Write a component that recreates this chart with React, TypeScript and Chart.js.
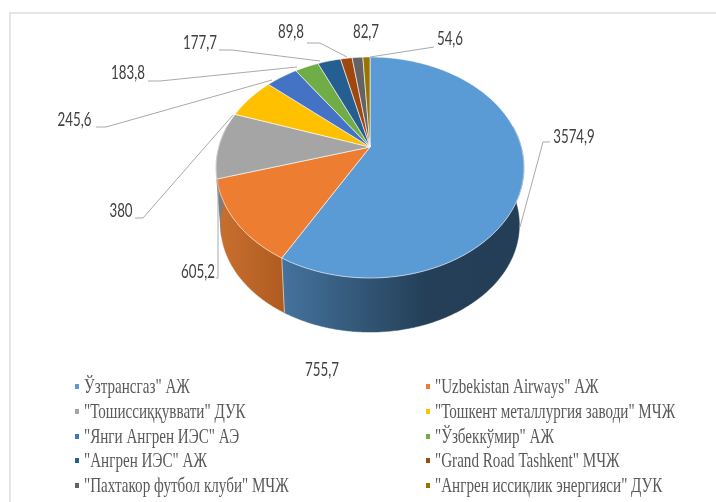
import React, { useEffect, useRef } from "react";
import { Chart, registerables } from "chart.js";

Chart.register(...registerables);

const categories = [
  'Ўзтрансгаз" АЖ',
  '"Uzbekistan Airways" АЖ',
  '"Тошиссиққуввати" ДУК',
  '"Тошкент металлургия заводи" МЧЖ',
  '"Янги Ангрен ИЭС" АЭ',
  '"Ўзбеккўмир" АЖ',
  '"Ангрен ИЭС" АЖ',
  '"Grand Road Tashkent" МЧЖ',
  '"Пахтакор футбол клуби" МЧЖ',
  '"Ангрен иссиқлик энергияси" ДУК',
];
const seriesValues = [3574.9, 755.7, 605.2, 380, 245.6, 183.8, 177.7, 89.8, 82.7, 54.6];
const valueLabels = ["3574,9", "755,7", "605,2", "380", "245,6", "183,8", "177,7", "89,8", "82,7", "54,6"];
const sliceColors = ["#5B9BD5", "#ED7D31", "#A5A5A5", "#FFC000", "#4472C4", "#70AD47", "#255E91", "#9E480E", "#636363", "#997300"];

// Layout of the labels: text centre, then the leader's bend points (empty = no leader).
const labelCentres = [[574, 137], [322, 370], [198, 272], [121, 211], [74.5, 120], [128, 73], [200, 43], [291, 32], [366, 32], [450, 39]];
const leaderPaths: number[][][] = [
  [[550, 142], [543, 142], [520, 227]],
  [],
  [[216, 278], [218, 278], [218, 179]],
  [[135, 218], [143, 218], [233, 115]],
  [[96, 127], [106, 127], [272, 80]],
  [[148, 81], [160, 81], [297, 67]],
  [[219, 50], [232, 50], [320, 61]],
  [[307, 43], [320, 43], [347, 57]],
  [],
  [[434, 47], [370, 57]],
];
const legendRows = [387, 412, 437, 461, 486];
const legendColumns = [{ marker: 75, text: 84 }, { marker: 426, text: 435 }];

// Perspective of the 3D disc
const K = -0.1855;
const SX = 1.513;
const SY = 1.067;
const BOTTOM_SCALE = 0.97;
const DEPTH = 58;

function project(a: number, r: number, cx: number, cy: number, scale = 1, dy = 0) {
  const x = Math.cos(a);
  const y = Math.sin(a);
  const d = 1 + K * y;
  return [cx + (scale * SX * r * x) / d, cy + dy + (scale * SY * r * y) / d];
}

function angles(from: number, to: number) {
  const out: number[] = [];
  const n = Math.max(2, Math.ceil((to - from) / 0.01));
  for (let i = 0; i <= n; i++) out.push(from + ((to - from) * i) / n);
  return out;
}

const wallFills: Record<number, [number, string][]> = {
  0: [[0, "#44739E"], [0.6, "#243F57"], [1, "#233E56"]],
  1: [[0, "#C97030"], [1, "#AF5B20"]],
  2: [[0, "#7C7C7C"], [1, "#7C7C7C"]],
};

const disc3d = {
  id: "disc3d",
  beforeDatasetDraw(chart: any) {
    const ctx: CanvasRenderingContext2D = chart.ctx;
    const arcs = chart.getDatasetMeta(0).data;
    ctx.save();
    // walls
    arcs.forEach((arc: any, i: number) => {
      const fill = wallFills[i];
      if (!fill) return;
      const { x: cx, y: cy, outerRadius: r } = arc;
      const from = Math.max(arc.startAngle, -0.2);
      const to = Math.min(arc.endAngle, Math.PI + 0.2);
      if (to <= from) return;
      const as = angles(from, to);
      const top = as.map((a) => project(a, r, cx, cy));
      const bot = as.map((a) => project(a, r, cx, cy, BOTTOM_SCALE, DEPTH));
      const xs = [...top, ...bot].map((p) => p[0]);
      const g = ctx.createLinearGradient(Math.min(...xs), 0, Math.max(...xs), 0);
      fill.forEach(([s, c]) => g.addColorStop(s, c));
      ctx.beginPath();
      top.forEach((p, j) => (j ? ctx.lineTo(p[0], p[1]) : ctx.moveTo(p[0], p[1])));
      [...bot].reverse().forEach((p) => ctx.lineTo(p[0], p[1]));
      ctx.closePath();
      ctx.fillStyle = g;
      ctx.fill();
      ctx.strokeStyle = g;
      ctx.lineWidth = 0.5;
      ctx.stroke();
    });
    // seam between the two visible walls
    const seam = arcs[0].endAngle;
    const s0 = project(seam, arcs[0].outerRadius, arcs[0].x, arcs[0].y);
    const s1 = project(seam, arcs[0].outerRadius, arcs[0].x, arcs[0].y, BOTTOM_SCALE, DEPTH);
    ctx.beginPath();
    ctx.moveTo(s0[0], s0[1]);
    ctx.lineTo(s1[0], s1[1]);
    ctx.strokeStyle = "rgba(255,255,255,0.55)";
    ctx.lineWidth = 1;
    ctx.stroke();
    // top faces
    arcs.forEach((arc: any, i: number) => {
      const { x: cx, y: cy, outerRadius: r } = arc;
      ctx.beginPath();
      ctx.moveTo(cx, cy);
      angles(arc.startAngle, arc.endAngle).forEach((a) => {
        const p = project(a, r, cx, cy);
        ctx.lineTo(p[0], p[1]);
      });
      ctx.closePath();
      ctx.fillStyle = sliceColors[i];
      ctx.fill();
      ctx.strokeStyle = "rgba(255,255,255,0.75)";
      ctx.lineWidth = 0.8;
      ctx.stroke();
    });
    ctx.restore();
    return false;
  },
  afterDatasetsDraw(chart: any) {
    const ctx: CanvasRenderingContext2D = chart.ctx;
    ctx.save();
    // leaders
    ctx.strokeStyle = "#A9A9A9";
    ctx.lineWidth = 1;
    leaderPaths.forEach((path) => {
      if (!path.length) return;
      ctx.beginPath();
      path.forEach((p, j) => (j ? ctx.lineTo(p[0], p[1]) : ctx.moveTo(p[0], p[1])));
      ctx.stroke();
    });
    // value labels
    ctx.fillStyle = "#404040";
    ctx.textBaseline = "middle";
    ctx.textAlign = "center";
    ctx.font = "19px Lato";
    valueLabels.forEach((t, i) => {
      const [x, y] = labelCentres[i];
      ctx.save();
      ctx.translate(x, y);
      ctx.scale(0.7, 1);
      ctx.fillText(t, 0, 0);
      ctx.restore();
    });
    // legend
    ctx.textAlign = "left";
    ctx.font = '21px "Liberation Serif"';
    categories.forEach((t, i) => {
      const col = legendColumns[i % 2];
      const y = legendRows[Math.floor(i / 2)];
      ctx.fillStyle = sliceColors[i];
      ctx.fillRect(col.marker, y - 3, 4, 5);
      ctx.fillStyle = "#595959";
      ctx.save();
      ctx.translate(col.text, y);
      ctx.scale(0.72, 1);
      ctx.fillText(t, 0, 0);
      ctx.restore();
    });
    ctx.restore();
  },
};

export default function App() {
  const ref = useRef<HTMLCanvasElement>(null);
  useEffect(() => {
    const chart = new Chart(ref.current!, {
      type: "pie",
      data: {
        labels: categories,
        datasets: [{ data: seriesValues, backgroundColor: sliceColors, borderWidth: 0 }],
      },
      options: {
        responsive: false,
        animation: false,
        radius: 100,
        layout: { padding: { left: 24, right: 0, top: 0, bottom: 208 } },
        plugins: { legend: { display: false }, tooltip: { enabled: false } },
      } as any,
      plugins: [disc3d as any],
    });
    return () => chart.destroy();
  }, []);
  return (
    <div style={{ position: "absolute", left: 0, top: 0, width: 716, height: 502, background: "#fff", overflow: "hidden" }}>
      <div style={{ position: "absolute", left: 9, top: 12, width: 720, height: 500, borderLeft: "2px solid #E6E6E6", borderTop: "2px solid #E6E6E6" }} />
      <canvas ref={ref} width={716} height={502} style={{ position: "absolute", left: 0, top: 0, filter: "blur(0.6px)" }} />
    </div>
  );
}
